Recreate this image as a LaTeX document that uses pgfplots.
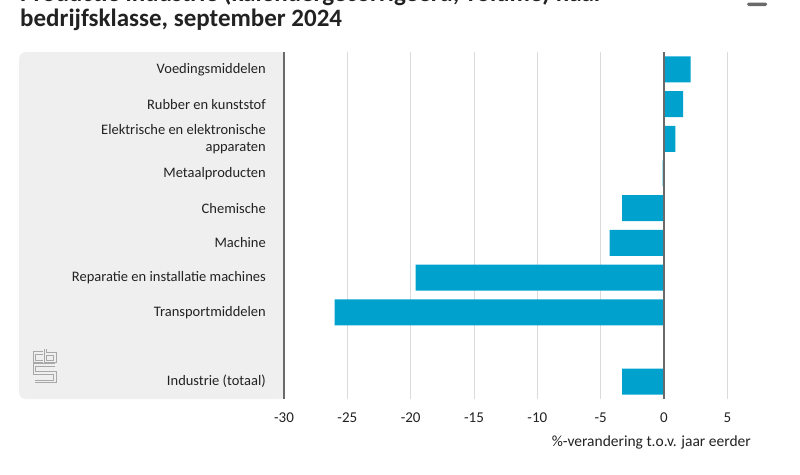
\documentclass[border=0pt]{standalone}
\usepackage{pgfplots}
\pgfplotsset{compat=1.18}
\usepackage{fontspec}
\setmainfont{Carlito}
\definecolor{cbsblue}{HTML}{00A1CD}
\definecolor{panel}{HTML}{EFEFEF}
\definecolor{gridgray}{HTML}{DADADA}
\definecolor{axisgray}{HTML}{6A6A6A}
\definecolor{txt}{HTML}{222222}
\definecolor{logogray}{HTML}{A8A8A8}
\begin{document}
\begin{tikzpicture}
\useasboundingbox (0,0) rectangle (800bp,-475bp);
% title
\node[anchor=base west, inner sep=0pt, font=\bfseries\fontsize{25bp}{27bp}\selectfont, text=txt] at (20bp,-1bp) {Productie industrie (kalendergecorrigeerd, volume) naar};
\node[anchor=base west, inner sep=0pt, font=\bfseries\fontsize{25bp}{27bp}\selectfont, text=txt] at (20bp,-26bp) {bedrijfsklasse, september 2024};
\fill[axisgray, rounded corners=1.5bp] (747bp,-2.5bp) rectangle (767bp,-6bp);
% panel
\fill[panel, rounded corners=7bp] (19bp,-52bp) rectangle (284bp,-399bp);
\fill[panel] (270bp,-52bp) rectangle (284bp,-399bp);
% logo
\foreach \w/\c in {3.2bp/logogray, 1.1bp/panel}{
  \draw[line width=\w, \c] (43bp,-353bp) -- (34.5bp,-353bp) -- (34.5bp,-361.5bp) -- (43bp,-361.5bp);
  \draw[line width=\w, \c] (45.5bp,-349bp) -- (45.5bp,-361.5bp) -- (55bp,-361.5bp) -- (55bp,-354bp) -- (45.5bp,-354bp);
  \draw[line width=\w, \c] (55bp,-365bp) -- (34.5bp,-365bp) -- (34.5bp,-373bp) -- (55bp,-373bp) -- (55bp,-381.5bp) -- (34.5bp,-381.5bp);
}
\begin{axis}[
  at={(284bp,-399bp)}, anchor=south west,
  scale only axis, width=475bp, height=347bp,
  xmin=-30, xmax=7.5, ymin=-0.5, ymax=9.5, y dir=reverse,
  axis line style={draw=none}, tick style={draw=none},
  xtick={-25,-20,-15,-10,-5,5},
  xticklabels={-25,-20,-15,-10,-5,5},
  extra x ticks={-30,0}, extra x tick labels={-30,0},
  xmajorgrids, grid style={gridgray, line width=1bp},
  extra x tick style={grid style={axisgray, line width=1.4bp}},
  ytick={0,1,2,3,4,5,6,7,9},
  yticklabels={Voedingsmiddelen, Rubber en kunststof, {Elektrische en elektronische\\apparaten}, Metaalproducten, Chemische, Machine, Reparatie en installatie machines, Transportmiddelen, Industrie (totaal)},
  yticklabel style={align=right, inner sep=0pt, xshift=-18bp, font=\fontsize{14.5bp}{17bp}\selectfont, text=txt},
  xticklabel style={inner sep=0pt, yshift=-14bp, font=\fontsize{15bp}{17bp}\selectfont, text=txt},
  xlabel={\%-verandering t.o.v. jaar eerder},
  xlabel style={at={(axis description cs:1,0)}, anchor=base east, inner sep=0pt, xshift=-8bp, yshift=-47bp, font=\fontsize{15.5bp}{17bp}\selectfont, text=txt},
  clip=false,
]
\addplot[xbar, bar width=26bp, fill=cbsblue, draw=none] coordinates {
  (2.1,0) (1.5,1) (0.9,2) (-0.1,3) (-3.3,4) (-4.3,5) (-19.6,6) (-26.0,7) (-3.3,9)
};
\addplot[axisgray, line width=1.5bp, no marks] coordinates {(0,-0.5) (0,9.5)};
\end{axis}
\end{tikzpicture}
\end{document}
